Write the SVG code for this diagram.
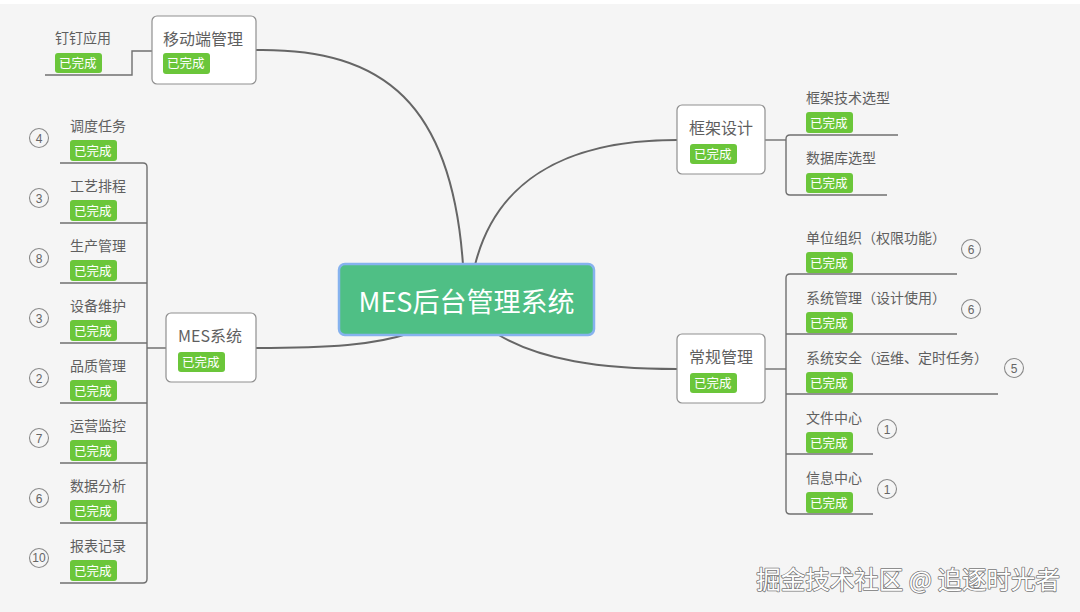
<svg xmlns="http://www.w3.org/2000/svg" width="1080" height="612" viewBox="0 0 1080 612">
<style>
.bg{fill:#f5f5f5}
.node{fill:#ffffff;stroke:#8f8f8f;stroke-width:1.2}
.t{font-family:"Microsoft YaHei","Noto Sans CJK SC","Liberation Sans",sans-serif;fill:#5f5f5f}
.nt{font-size:16px}
.it{font-size:14px}
.badge{fill:#6bc63a}
.bt{font-family:"Microsoft YaHei","Noto Sans CJK SC","Liberation Sans",sans-serif;font-size:12.5px;fill:#ffffff}
.curve{fill:none;stroke:#666666;stroke-width:2}
.line{fill:none;stroke:#707070;stroke-width:1.4}
.circ{fill:none;stroke:#8a8a8a;stroke-width:1.1}
.ct{font-family:"Liberation Sans","Noto Sans",sans-serif;font-size:12px;fill:#666666;text-anchor:middle}
</style>
<rect class="bg" x="0" y="0" width="1080" height="612"/>
<rect x="0" y="0" width="1080" height="4" fill="#ffffff"/>

<g id="connectors">
<path class="curve" d="M256,50 C385,48 452,105 463,265"/>
<path class="curve" d="M475,265 C495,185 560,140 677,140"/>
<path class="curve" d="M256,348 C330,348 375,345 410,333"/>
<path class="curve" d="M497,334 C540,360 600,369 677,369"/>
<path class="line" d="M45,75 H132 V51 H152"/>
<path class="line" d="M256,348 H147"/>
<path class="line" d="M60,163 H143 Q147,163 147,167 V579 Q147,583 143,583 H60"/>
<path class="line" d="M60,223 H147 M60,283 H147 M60,343 H147 M60,403 H147 M60,463 H147 M60,523 H147"/>
<path class="line" d="M765,140 H786"/>
<path class="line" d="M898,135 H790 Q786,135 786,139 V191 Q786,195 790,195 H887"/>
<path class="line" d="M765,369 H786"/>
<path class="line" d="M957,274 H790 Q786,274 786,278 V510 Q786,514 790,514 H873"/>
<path class="line" d="M786,334 H957 M786,394 H998 M786,454 H873"/>
</g>

<g id="root">
<rect x="339" y="264" width="255" height="71" rx="6" fill="#4fbf85" stroke="#86b2ee" stroke-width="2.5"/>
<text x="466.5" y="312" text-anchor="middle" font-family="Microsoft YaHei,'Noto Sans CJK SC','Liberation Sans',sans-serif" font-size="27" fill="#ffffff">MES后台管理系统</text>
</g>

<g id="mobile">
<rect class="node" x="152" y="16" width="104" height="68" rx="5"/>
<text class="t nt" x="163" y="45">移动端管理</text>
<rect class="badge" x="163" y="53" width="47" height="21" rx="3"/>
<text class="bt" x="167" y="68">已完成</text>
</g>
<g id="dingding">
<text class="t it" x="55" y="43">钉钉应用</text>
<rect class="badge" x="55" y="53" width="47" height="20" rx="3"/>
<text class="bt" x="59" y="68">已完成</text>
</g>

<g id="mes">
<rect class="node" x="166" y="313" width="90" height="69" rx="5"/>
<text class="t nt" x="178" y="342">MES系统</text>
<rect class="badge" x="178" y="352" width="47" height="20" rx="3"/>
<text class="bt" x="182" y="367">已完成</text>
</g>

<g id="m1"><circle class="circ" cx="39" cy="138" r="9.5"/><text class="ct" x="39" y="142.5">4</text><text class="t it" x="70" y="131">调度任务</text><rect class="badge" x="70" y="140" width="47" height="21" rx="3"/><text class="bt" x="74" y="155.5">已完成</text></g>
<g id="m2"><circle class="circ" cx="39" cy="198" r="9.5"/><text class="ct" x="39" y="202.5">3</text><text class="t it" x="70" y="191">工艺排程</text><rect class="badge" x="70" y="200" width="47" height="21" rx="3"/><text class="bt" x="74" y="215.5">已完成</text></g>
<g id="m3"><circle class="circ" cx="39" cy="258" r="9.5"/><text class="ct" x="39" y="262.5">8</text><text class="t it" x="70" y="251">生产管理</text><rect class="badge" x="70" y="260" width="47" height="21" rx="3"/><text class="bt" x="74" y="275.5">已完成</text></g>
<g id="m4"><circle class="circ" cx="39" cy="318" r="9.5"/><text class="ct" x="39" y="322.5">3</text><text class="t it" x="70" y="311">设备维护</text><rect class="badge" x="70" y="320" width="47" height="21" rx="3"/><text class="bt" x="74" y="335.5">已完成</text></g>
<g id="m5"><circle class="circ" cx="39" cy="378" r="9.5"/><text class="ct" x="39" y="382.5">2</text><text class="t it" x="70" y="371">品质管理</text><rect class="badge" x="70" y="380" width="47" height="21" rx="3"/><text class="bt" x="74" y="395.5">已完成</text></g>
<g id="m6"><circle class="circ" cx="39" cy="438" r="9.5"/><text class="ct" x="39" y="442.5">7</text><text class="t it" x="70" y="431">运营监控</text><rect class="badge" x="70" y="440" width="47" height="21" rx="3"/><text class="bt" x="74" y="455.5">已完成</text></g>
<g id="m7"><circle class="circ" cx="39" cy="498" r="9.5"/><text class="ct" x="39" y="502.5">6</text><text class="t it" x="70" y="491">数据分析</text><rect class="badge" x="70" y="500" width="47" height="21" rx="3"/><text class="bt" x="74" y="515.5">已完成</text></g>
<g id="m8"><circle class="circ" cx="39" cy="558" r="9.5"/><text class="ct" x="39" y="562" font-size="11">10</text><text class="t it" x="70" y="551">报表记录</text><rect class="badge" x="70" y="560" width="47" height="21" rx="3"/><text class="bt" x="74" y="575.5">已完成</text></g>

<g id="framework">
<rect class="node" x="677" y="105" width="88" height="69" rx="5"/>
<text class="t nt" x="689" y="134">框架设计</text>
<rect class="badge" x="690" y="144" width="47" height="20" rx="3"/>
<text class="bt" x="694" y="159">已完成</text>
</g>
<g id="f1"><text class="t it" x="806" y="103">框架技术选型</text><rect class="badge" x="806" y="112" width="47" height="21" rx="3"/><text class="bt" x="810" y="127.5">已完成</text></g>
<g id="f2"><text class="t it" x="806" y="163">数据库选型</text><rect class="badge" x="806" y="173" width="47" height="20" rx="3"/><text class="bt" x="810" y="188">已完成</text></g>

<g id="general">
<rect class="node" x="677" y="334" width="88" height="69" rx="5"/>
<text class="t nt" x="689" y="363">常规管理</text>
<rect class="badge" x="690" y="373" width="47" height="20" rx="3"/>
<text class="bt" x="694" y="388">已完成</text>
</g>
<g id="g1"><text class="t it" x="806" y="243">单位组织（权限功能）</text><rect class="badge" x="806" y="252" width="47" height="21" rx="3"/><text class="bt" x="810" y="267.5">已完成</text><circle class="circ" cx="971" cy="249" r="9.5"/><text class="ct" x="971" y="253.5">6</text></g>
<g id="g2"><text class="t it" x="806" y="303">系统管理（设计使用）</text><rect class="badge" x="806" y="312" width="47" height="21" rx="3"/><text class="bt" x="810" y="327.5">已完成</text><circle class="circ" cx="971" cy="309" r="9.5"/><text class="ct" x="971" y="313.5">6</text></g>
<g id="g3"><text class="t it" x="806" y="363">系统安全（运维、定时任务）</text><rect class="badge" x="806" y="372" width="47" height="21" rx="3"/><text class="bt" x="810" y="387.5">已完成</text><circle class="circ" cx="1014" cy="368" r="9.5"/><text class="ct" x="1014" y="372.5">5</text></g>
<g id="g4"><text class="t it" x="806" y="423">文件中心</text><rect class="badge" x="806" y="432" width="47" height="21" rx="3"/><text class="bt" x="810" y="447.5">已完成</text><circle class="circ" cx="887" cy="429" r="9.5"/><text class="ct" x="887" y="433.5">1</text></g>
<g id="g5"><text class="t it" x="806" y="483">信息中心</text><rect class="badge" x="806" y="492" width="47" height="21" rx="3"/><text class="bt" x="810" y="507.5">已完成</text><circle class="circ" cx="887" cy="489" r="9.5"/><text class="ct" x="887" y="493.5">1</text></g>

<text x="1060" y="589" text-anchor="end" font-family="Microsoft YaHei,'Noto Sans CJK SC','Liberation Sans',sans-serif" font-size="24.5" fill="#ffffff" stroke="#777777" stroke-width="1.6" paint-order="stroke" stroke-linejoin="round">掘金技术社区 @ 追逐时光者</text>
</svg>
